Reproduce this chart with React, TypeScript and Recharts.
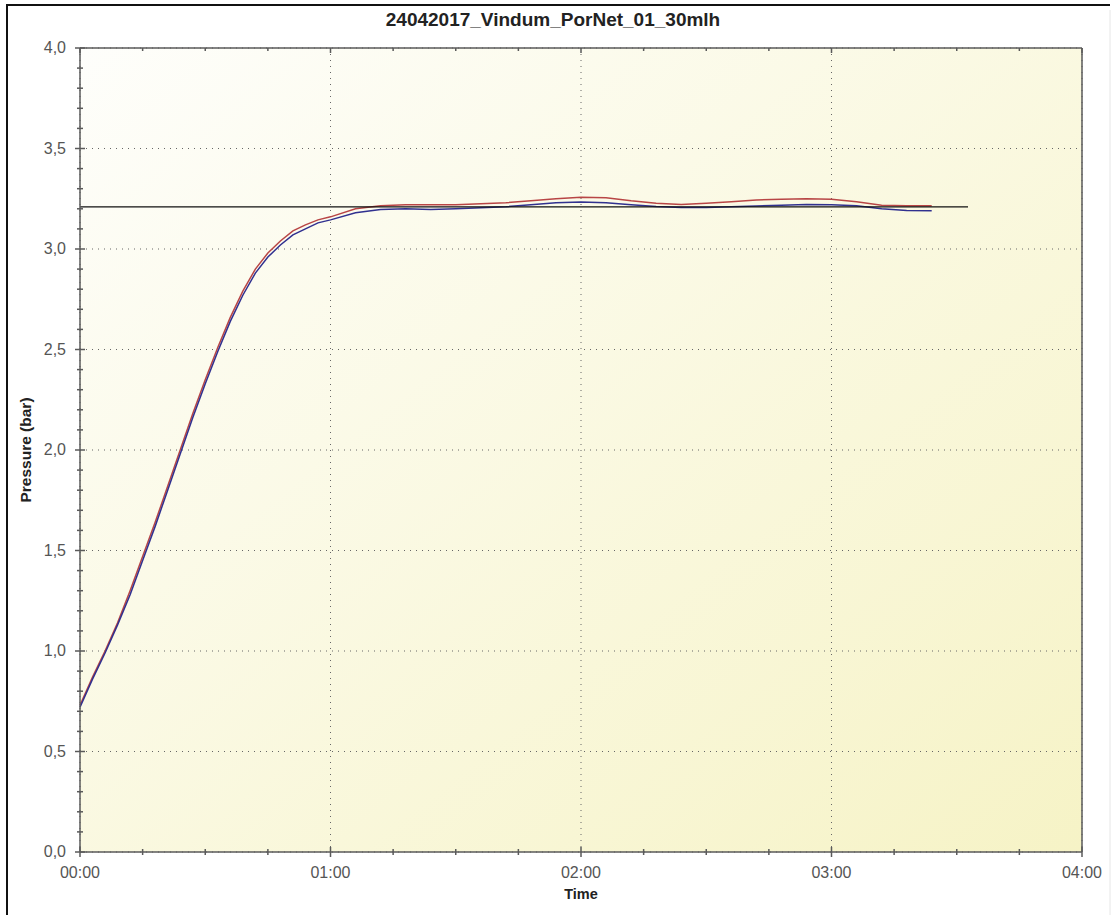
import React from 'react';
import {
  LineChart,
  Line,
  XAxis,
  YAxis,
  CartesianGrid,
  ReferenceLine
} from 'recharts';

// time in hours
const time = [
  0.0, 0.05, 0.1, 0.15, 0.2, 0.25, 0.3, 0.35, 0.4, 0.45, 0.5, 0.55, 0.6, 0.65, 0.7, 0.75,
  0.8, 0.85, 0.9, 0.95, 1.0, 1.1, 1.2, 1.3, 1.4, 1.5, 1.6, 1.7, 1.8, 1.9, 2.0, 2.1, 2.2,
  2.3, 2.4, 2.5, 2.6, 2.7, 2.8, 2.9, 3.0, 3.1, 3.2, 3.3, 3.4
];

const pressureRed = [
  0.73, 0.87, 1.0, 1.14, 1.3, 1.47, 1.64, 1.82, 2.0, 2.18, 2.35, 2.51, 2.66, 2.79, 2.9, 2.98,
  3.04, 3.09, 3.12, 3.145, 3.16, 3.2, 3.215, 3.22, 3.22, 3.22, 3.225, 3.23, 3.24, 3.25, 3.258,
  3.255, 3.24, 3.228, 3.222, 3.228, 3.235, 3.244, 3.248, 3.25, 3.248, 3.235, 3.218, 3.215, 3.215
];

const pressureBlue = [
  0.72, 0.86, 0.99, 1.13, 1.28, 1.45, 1.62, 1.8, 1.98, 2.16, 2.33, 2.49, 2.64, 2.77, 2.88, 2.96,
  3.02, 3.07, 3.1, 3.13, 3.145, 3.18, 3.197, 3.2, 3.197, 3.2, 3.205, 3.21, 3.22, 3.23, 3.234,
  3.23, 3.22, 3.212, 3.207, 3.207, 3.21, 3.214, 3.218, 3.222, 3.22, 3.215, 3.2, 3.192, 3.19
];

const setPoint = 3.21;
const setPointEnd = 3.545;

const xTicks = [
  0, 0.25, 0.5, 0.75, 1, 1.25, 1.5, 1.75, 2, 2.25, 2.5, 2.75, 3, 3.25, 3.5, 3.75, 4
];
const xMajor = [0, 1, 2, 3, 4];
const xLabels = ['00:00', '01:00', '02:00', '03:00', '04:00'];

const yTicks = [
  0, 0.1, 0.2, 0.3, 0.4, 0.5, 0.6, 0.7, 0.8, 0.9, 1, 1.1, 1.2, 1.3, 1.4, 1.5, 1.6, 1.7, 1.8, 1.9,
  2, 2.1, 2.2, 2.3, 2.4, 2.5, 2.6, 2.7, 2.8, 2.9, 3, 3.1, 3.2, 3.3, 3.4, 3.5, 3.6, 3.7, 3.8, 3.9, 4
];
const yMajor = [0, 0.5, 1, 1.5, 2, 2.5, 3, 3.5, 4];
const yLabels = ['0,0', '0,5', '1,0', '1,5', '2,0', '2,5', '3,0', '3,5', '4,0'];

const data = time.map((t, i) => ({ t, red: pressureRed[i], blue: pressureBlue[i] }));

const FONT = '"Liberation Sans", Arial, sans-serif';
const AXIS = '#5a5a5a';

const findMajor = (list: number[], v: number) =>
  list.findIndex(m => Math.abs(m - v) < 1e-6);

const AxisTick = (side: 'bottom' | 'top' | 'left' | 'right') => (props: any) => {
  const { x, y, payload } = props;
  const v = payload.value;
  const isX = side === 'bottom' || side === 'top';
  const idx = findMajor(isX ? xMajor : yMajor, v);
  const major = idx >= 0;
  const len = major ? 5 : 3;
  let line;
  if (side === 'bottom') line = <line x1={x} x2={x} y1={y - len} y2={y + len} />;
  else if (side === 'left') line = <line x1={x - len} x2={x + len} y1={y} y2={y} />;
  else if (side === 'top') line = <line x1={x} x2={x} y1={y} y2={y + len} />;
  else line = <line x1={x - len} x2={x} y1={y} y2={y} />;
  return (
    <g stroke={AXIS} strokeWidth={1.5}>
      {line}
      {major && side === 'bottom' && (
        <text x={x} y={y + 26} textAnchor="middle" fill="#555" stroke="none" fontSize={16} fontFamily={FONT}>
          {xLabels[idx]}
        </text>
      )}
      {major && side === 'left' && (
        <text x={x - 14} y={y + 5} textAnchor="end" fill="#555" stroke="none" fontSize={16} fontFamily={FONT}>
          {yLabels[idx]}
        </text>
      )}
    </g>
  );
};

const App: React.FC = () => {
  return (
    <div style={{ position: 'absolute', left: 0, top: 0, width: 1113, height: 915, background: '#fff' }}>
      <LineChart
        width={1113}
        height={915}
        data={data}
        margin={{ top: 47, right: 30, left: 0, bottom: 0 }}
      >
        <defs>
          <linearGradient id="plotBg" x1="0" y1="0" x2="1" y2="1">
            <stop offset="0%" stopColor="#fefefb" />
            <stop offset="100%" stopColor="#f6f3c6" />
          </linearGradient>
        </defs>
        <CartesianGrid
          fill="url(#plotBg)"
          fillOpacity={1}
          stroke="#666"
          strokeDasharray="1 5"
          verticalValues={xMajor}
          horizontalValues={yMajor}
        />
        <XAxis
          dataKey="t"
          type="number"
          domain={[0, 4]}
          ticks={xTicks}
          interval={0}
          height={63}
          tickSize={0}
          tickMargin={0}
          axisLine={{ stroke: AXIS, strokeWidth: 1.5 }}
          tickLine={false}
          tick={AxisTick('bottom')}
        />
        <XAxis
          xAxisId="top"
          orientation="top"
          dataKey="t"
          type="number"
          domain={[0, 4]}
          ticks={xTicks}
          interval={0}
          height={1}
          tickSize={0}
          tickMargin={0}
          axisLine={{ stroke: AXIS, strokeWidth: 1.5 }}
          tickLine={false}
          tick={AxisTick('top')}
        />
        <YAxis
          type="number"
          domain={[0, 4]}
          ticks={yTicks}
          interval={0}
          width={80}
          tickSize={0}
          tickMargin={0}
          axisLine={{ stroke: AXIS, strokeWidth: 1.5 }}
          tickLine={false}
          tick={AxisTick('left')}
        />
        <YAxis
          yAxisId="right"
          orientation="right"
          type="number"
          domain={[0, 4]}
          ticks={yTicks}
          interval={0}
          width={1}
          tickSize={0}
          tickMargin={0}
          axisLine={{ stroke: AXIS, strokeWidth: 1.5 }}
          tickLine={false}
          tick={AxisTick('right')}
        />
        <Line
          type="linear"
          dataKey="red"
          stroke="#b84545"
          strokeWidth={1.5}
          dot={false}
          isAnimationActive={false}
        />
        <Line
          type="linear"
          dataKey="blue"
          stroke="#30308f"
          strokeWidth={1.5}
          dot={false}
          isAnimationActive={false}
        />
        <ReferenceLine
          segment={[{ x: 0, y: setPoint }, { x: setPointEnd, y: setPoint }]}
          stroke="#111"
          strokeWidth={1.2}
        />
      </LineChart>
      <svg
        width={1113}
        height={915}
        style={{ position: 'absolute', left: 0, top: 0, pointerEvents: 'none' }}
      >
        <line x1={6} y1={5} x2={1110} y2={5} stroke="#111" strokeWidth={2} />
        <line x1={7} y1={5} x2={7} y2={915} stroke="#111" strokeWidth={2} />
        <line x1={1110} y1={10} x2={1110} y2={915} stroke="#e6e6e6" strokeWidth={1} />
        <text x={553} y={26} textAnchor="middle" fontSize={19} fontWeight="bold" fill="#222" fontFamily={FONT}>
          24042017_Vindum_PorNet_01_30mlh
        </text>
        <text
          x={31}
          y={450}
          transform="rotate(-90, 31, 450)"
          textAnchor="middle"
          fontSize={15.5}
          fontWeight="bold"
          fill="#222"
          fontFamily={FONT}
        >
          Pressure (bar)
        </text>
        <text x={581} y={899} textAnchor="middle" fontSize={14.5} fontWeight="bold" fill="#222" fontFamily={FONT}>
          Time
        </text>
      </svg>
    </div>
  );
};

export default App;
